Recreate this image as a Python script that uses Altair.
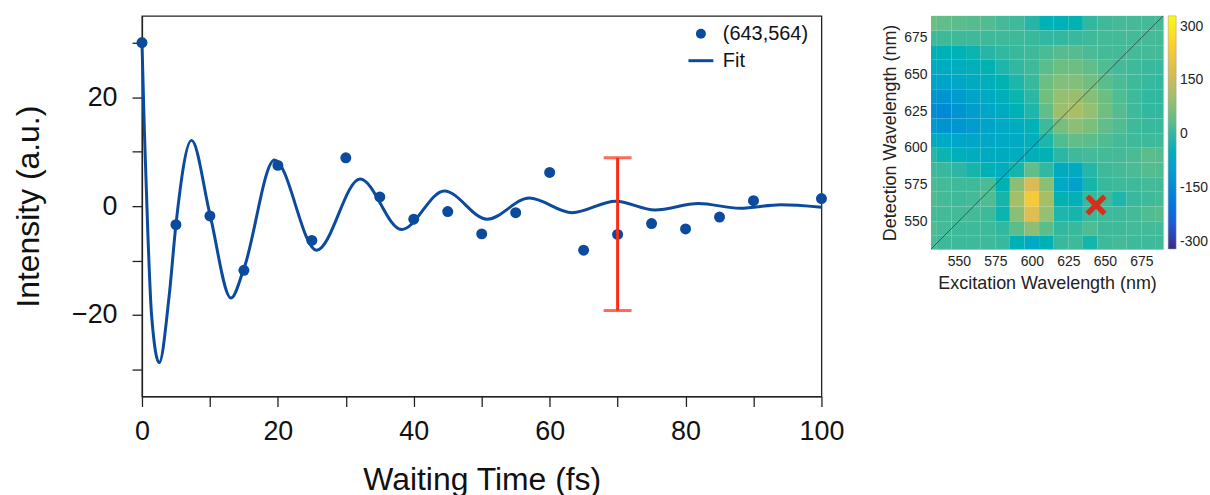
import altair as alt
import pandas as pd
import numpy as np

# ---------------- main panel data ----------------
t_data = [0, 5, 10, 15, 20, 25, 30, 35, 40, 45, 50, 55, 60, 65, 70, 75, 80, 85, 90, 100]
i_data = [30.1, -3.4, -1.8, -11.8, 7.5, -6.3, 8.9, 1.7, -2.4, -1.0, -5.1, -1.2, 6.2,
          -8.1, -5.2, -3.2, -4.2, -2.0, 1.0, 1.4]

t_fit = [0, 0.35, 0.85, 1.4, 2.53, 4.0, 5.0, 7.3, 10.0, 13.1, 15.0, 19.5, 25.7, 32.1,
         38.2, 44.5, 50.8, 57.0, 63.3, 69.7, 75.5, 81.9, 88.0, 94.0, 100]
i_fit = [30.0, 14.0, -4.5, -19.8, -28.8, -16.5, -3.4, 12.1, -1.5, -16.9, -11.5, 8.5, -8.1,
         5.0, -4.3, 2.8, -2.4, 1.5, -1.2, 0.9, -0.7, 0.5, -0.4, 0.25, -0.2]

err_t = [70]
err_lo = [-19.2]
err_hi = [8.9]

x_ticks = [0, 10, 20, 30, 40, 50, 60, 70, 80, 90, 100]
y_ticks = [-30, -20, -10, 0, 10, 20, 30]
series_names = ["(643,564)", "Fit"]

# ---------------- 2D map data ----------------
ex_vals = [530, 540, 550, 560, 570, 580, 590, 600, 610, 620, 630, 640, 650, 660, 670, 680, 690]
det_vals = [685, 675, 665, 655, 645, 635, 625, 615, 605, 595, 585, 575, 565, 555, 545, 535]
grid = [
    [50, 40, 35, 30, 25, 15, 10, -10, -35, -40, -30, 0, 10, 15, 15, 15, 15],
    [10, 10, 10, 10, 10, 10, 10, 5, 0, 0, 5, 10, 15, 15, 15, 15, 15],
    [-40, -40, -35, -25, -10, 0, 5, 10, 20, 30, 30, 20, 15, 15, 15, 15, 15],
    [-60, -60, -55, -45, -30, -15, 0, 10, 35, 50, 50, 40, 25, 15, 10, 5, 5],
    [-85, -85, -75, -60, -45, -30, -15, 5, 50, 70, 70, 55, 35, 20, 10, 5, 0],
    [-120, -125, -105, -85, -65, -45, -25, -5, 55, 90, 95, 75, 50, 25, 10, 0, 0],
    [-140, -150, -125, -100, -80, -60, -40, -15, 40, 100, 115, 90, 55, 30, 10, 0, 0],
    [-110, -125, -120, -105, -85, -70, -55, -35, 10, 60, 80, 65, 40, 25, 10, 5, 5],
    [-60, -70, -80, -80, -75, -70, -70, -50, -15, 25, 40, 35, 25, 15, 10, 10, 10],
    [-10, -25, -45, -55, -60, -60, -55, -45, -30, -5, 10, 15, 15, 15, 20, 35, 30],
    [10, 5, -5, -20, -40, -55, -20, 40, 0, -60, -60, -10, 10, 15, 20, 30, 25],
    [20, 15, 10, 10, 20, -30, 80, 170, 80, -70, -90, -20, 5, 10, 10, 15, 15],
    [25, 15, 10, 15, 25, -20, 110, 230, 110, -30, -40, 5, 10, -15, 5, 10, 15],
    [15, 15, 15, 15, 10, -25, 80, 180, 90, -15, -20, 5, 10, 10, 15, 25, 30],
    [25, 15, 10, 10, 10, 0, 35, 80, 35, 0, 5, 25, 10, 10, 15, 15, 15],
    [20, 10, 10, 10, 10, 5, -40, -70, -40, 5, 10, -20, 10, 15, 10, 10, 10],
]
map_ticks = [550, 575, 600, 625, 650, 675]
cbar_ticks = [-300, -150, 0, 150, 300]
diag = [531, 690]
marker_ex = [644]
marker_det = [561]

# ---------------- styling ----------------
FONT = "Liberation Sans"
BLUE = "#0b4a9c"
RED = "#ff2a14"
XRED = "#d2301a"
parula = ["#352a87", "#0363e1", "#1485d4", "#06a7c6", "#38b99e",
          "#92bf73", "#d9ba56", "#fcce2e", "#f9fb0e"]
cmin, cmax = -320, 330
c_domain = [float(v) for v in np.linspace(cmin, cmax, len(parula))]
MAP_DOM = [531, 690]

pts_df = pd.DataFrame({"t": t_data, "v": i_data, "series": series_names[0]})
fit_df = pd.DataFrame({"t": t_fit, "v": i_fit})
err_df = pd.DataFrame({"t": err_t, "lo": err_lo, "hi": err_hi})

rows = []
for di, d in enumerate(det_vals):
    for ei, e in enumerate(ex_vals):
        rows.append({"ex": e, "det": d, "val": grid[di][ei]})
map_df = pd.DataFrame(rows)
diag_df = pd.DataFrame({"a": diag, "b": diag})
mark_df = pd.DataFrame({"ex": marker_ex, "det": marker_det})

xsc = alt.Scale(domain=[0, 100], nice=False, zero=False)
ysc = alt.Scale(domain=[-35, 35], nice=False, zero=False)

xaxis = alt.Axis(values=x_ticks, labelExpr="datum.value % 20 == 0 ? datum.label : ''",
                 title="Waiting Time (fs)", tickSize=10, tickWidth=1.3, tickColor="#222",
                 domainColor="#222", domainWidth=1.3, labelFontSize=27, labelPadding=12,
                 labelFlush=False, labelOverlap=False,
                 titleFontSize=32, titlePadding=20, labelColor="#111", titleColor="#111",
                 titleFontWeight="normal", grid=False)
yaxis = alt.Axis(values=y_ticks, labelExpr="datum.value % 20 == 0 ? datum.label : ''",
                 title="Intensity (a.u.)", tickSize=10, tickWidth=1.3, tickColor="#222",
                 domainColor="#222", domainWidth=1.3, labelFontSize=27, labelPadding=15,
                 labelFlush=False, labelOverlap=False,
                 titleFontSize=32, titlePadding=26, labelColor="#111", titleColor="#111",
                 titleFontWeight="normal", grid=False)

LINE_SYM = "M-2.5,-0.3H2.5V0.3H-2.5Z"

fit = alt.Chart(fit_df).mark_line(color=BLUE, strokeWidth=3, interpolate="monotone").encode(
    x=alt.X("t:Q", scale=xsc, axis=xaxis),
    y=alt.Y("v:Q", scale=ysc, axis=yaxis),
)
pts = alt.Chart(pts_df).mark_point(filled=True, size=121, color=BLUE, opacity=1).encode(
    x=alt.X("t:Q", scale=xsc),
    y=alt.Y("v:Q", scale=ysc),
    shape=alt.Shape("series:N",
                    scale=alt.Scale(domain=series_names, range=["circle", LINE_SYM]),
                    legend=alt.Legend(title=None, orient="none", legendX=551, legendY=8,
                                      symbolSize=100, symbolFillColor=BLUE,
                                      symbolStrokeWidth=0, labelFontSize=20,
                                      labelFont=FONT, labelColor="#111", labelOffset=12,
                                      rowPadding=7, padding=0)),
)
rule = alt.Chart(err_df).mark_rule(color=RED, strokeWidth=3).encode(
    x=alt.X("t:Q", scale=xsc), y=alt.Y("lo:Q", scale=ysc), y2="hi:Q")
caps = alt.Chart(err_df).transform_fold(["lo", "hi"], as_=["k", "yv"]).mark_tick(
    color=RED, thickness=3, size=28, orient="horizontal").encode(
    x=alt.X("t:Q", scale=xsc), y=alt.Y("yv:Q", scale=ysc))

main = alt.layer(fit, pts, rule, caps).properties(
    width=682, height=382,
    view=alt.ViewBackground(stroke="#222", strokeWidth=1.3),
)

hx = alt.Scale(domain=MAP_DOM, nice=False, zero=False)
hy = alt.Scale(domain=MAP_DOM, nice=False, zero=False)
hxaxis = alt.Axis(values=map_ticks, title="Excitation Wavelength (nm)", ticks=False,
                  domain=False, labelFontSize=14, labelPadding=6, titleFontSize=18,
                  titlePadding=6, labelColor="#222", titleColor="#222", labelFlush=False,
                  titleFontWeight="normal", grid=False)
hyaxis = alt.Axis(values=map_ticks, title="Detection Wavelength (nm)", ticks=False,
                  domain=False, labelFontSize=14, labelPadding=4, titleFontSize=18,
                  titlePadding=4, labelColor="#222", titleColor="#222", labelFlush=False,
                  titleFontWeight="normal", grid=False)

cscale = alt.Scale(domain=c_domain, range=parula, clamp=True)

heat = alt.Chart(map_df).transform_calculate(
    x0="datum.ex - 5", x1="datum.ex + 5", y0="datum.det - 5", y1="datum.det + 5"
).mark_rect(clip=True).encode(
    x=alt.X("x0:Q", scale=hx, axis=hxaxis),
    x2="x1:Q",
    y=alt.Y("y0:Q", scale=hy, axis=hyaxis),
    y2="y1:Q",
    color=alt.Color("val:Q", scale=cscale,
                    legend=alt.Legend(type="gradient", title=None, orient="right", offset=5,
                                      direction="vertical", gradientLength=234,
                                      gradientThickness=8, values=cbar_ticks,
                                      labelExpr="'' + datum.value", labelFontSize=14,
                                      labelFont=FONT, labelColor="#222", labelOffset=4,
                                      gradientStrokeColor="#999", gradientStrokeWidth=0.5,
                                      labelOverlap=False)),
)
diag_line = alt.Chart(diag_df).mark_line(color="#2a2a2a", strokeWidth=0.8, opacity=0.8).encode(
    x=alt.X("a:Q", scale=hx), y=alt.Y("b:Q", scale=hy))
xmark = alt.Chart(mark_df).mark_point(shape="M-1,-1L1,1M1,-1L-1,1", size=300, filled=False,
                                      strokeWidth=5.5, color=XRED, opacity=1).encode(
    x=alt.X("ex:Q", scale=hx), y=alt.Y("det:Q", scale=hy))

heatmap = alt.layer(heat, diag_line, xmark).properties(
    width=233, height=234,
    view=alt.ViewBackground(stroke="#bbbbbb", strokeWidth=1),
)

chart = alt.hconcat(main, heatmap, spacing=36).resolve_scale(
    color="independent", shape="independent"
).resolve_legend(color="independent", shape="independent").properties(
    padding={"left": 11.5, "top": 12, "right": 0, "bottom": 0}
).configure(font=FONT).configure_axis(labelFont=FONT, titleFont=FONT).configure_legend(
    labelFont=FONT)

chart.save("out.html", embed_options={"renderer": "svg", "actions": False})
